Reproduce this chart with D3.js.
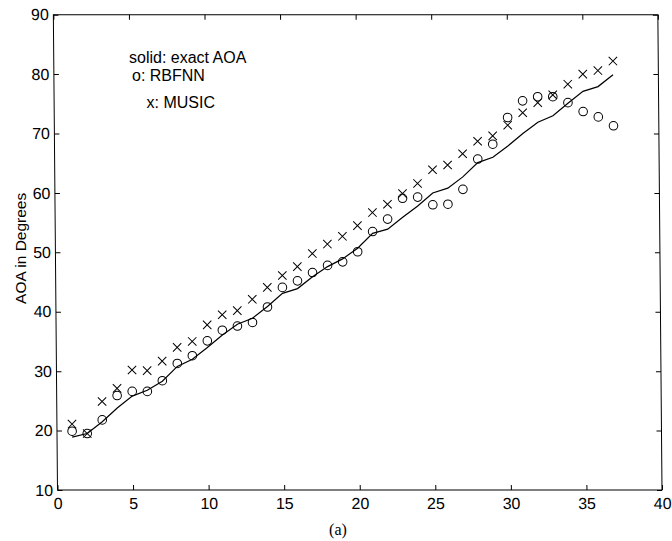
<!DOCTYPE html>
<html>
<head>
<meta charset="utf-8">
<script src="https://cdn.jsdelivr.net/npm/d3@7"></script>
<style>
  html, body { margin: 0; padding: 0; background: #fff; }
  svg { display: block; }
  .axis text { font-family: "Liberation Sans", Arial, Helvetica, sans-serif; font-size: 16px; fill: #000; }
  .axis path, .axis line { stroke: #000; stroke-width: 1; }
</style>
</head>
<body>
<script>
// Snapshot index (1..37)
const snapshots = d3.range(1, 38);

// Exact angle of arrival (degrees)
const exactAOA = [18.9, 19.5, 21.5, 23.8, 25.8, 26.8, 28.3, 30.8, 32.0, 34.0,
                  36.1, 37.9, 38.9, 40.9, 43.1, 43.9, 45.9, 47.6, 48.9, 50.7,
                  53.2, 53.9, 55.9, 57.8, 60.0, 60.8, 62.7, 65.1, 66.0, 67.9,
                  70.0, 71.9, 73.0, 75.1, 77.1, 77.9, 79.9];

// RBFNN estimates (circles)
const rbfnn = [19.9, 19.5, 21.8, 25.9, 26.6, 26.6, 28.4, 31.3, 32.6, 35.1,
               36.9, 37.6, 38.2, 40.8, 44.1, 45.2, 46.6, 47.8, 48.4, 50.1,
               53.5, 55.6, 59.1, 59.3, 58.0, 58.1, 60.6, 65.7, 68.2, 72.7,
               75.5, 76.2, 76.2, 75.2, 73.7, 72.8, 71.3];

// MUSIC estimates (crosses)
const music = [21.1, 19.5, 24.9, 27.1, 30.2, 30.1, 31.7, 34.0, 35.0, 37.8,
               39.5, 40.2, 42.1, 44.1, 46.1, 47.6, 49.8, 51.4, 52.7, 54.5,
               56.7, 58.1, 59.9, 61.6, 63.9, 64.7, 66.6, 68.7, 69.6, 71.4,
               73.5, 75.2, 76.5, 78.3, 80.0, 80.6, 82.2];

const xTicks = [0, 5, 10, 15, 20, 25, 30, 35, 40];
const yTicks = [10, 20, 30, 40, 50, 60, 70, 80, 90];

const legendLines = ["solid: exact AOA", "o: RBFNN", "x: MUSIC"];
const yLabel = "AOA in Degrees";
const caption = "(a)";

const W = 672, H = 541;
const plotLeft = 57.5, plotRight = 662, plotTop = 14.7, plotBottom = 490;

const svg = d3.select("body").append("svg")
  .attr("width", W).attr("height", H)
  .attr("viewBox", `0 0 ${W} ${H}`);

// The axes box leans slightly (top edge sits a few pixels left of the bottom edge)
const lean = 0.5; // degrees
const plot = svg.append("g")
  .attr("transform", `translate(0,${plotBottom}) skewX(${lean}) translate(0,${-plotBottom})`);

const x = d3.scaleLinear().domain([0, 40]).range([plotLeft, plotRight]);
const y = d3.scaleLinear().domain([10, 90]).range([plotBottom, plotTop]);

// Frame
plot.append("rect")
  .attr("x", plotLeft).attr("y", plotTop)
  .attr("width", plotRight - plotLeft).attr("height", plotBottom - plotTop)
  .attr("fill", "none").attr("stroke", "#000").attr("stroke-width", 1);

const tick = 5;
// Bottom axis with labels, ticks pointing inward
plot.append("g").attr("class", "axis")
  .attr("transform", `translate(0,${plotBottom})`)
  .call(d3.axisBottom(x).tickValues(xTicks).tickFormat(d3.format("d"))
        .tickSizeInner(-tick).tickSizeOuter(0).tickPadding(8))
  .call(g => g.select(".domain").remove());
// Top axis, ticks only
plot.append("g").attr("class", "axis")
  .attr("transform", `translate(0,${plotTop})`)
  .call(d3.axisTop(x).tickValues(xTicks).tickFormat("")
        .tickSizeInner(-tick).tickSizeOuter(0))
  .call(g => g.select(".domain").remove());
// Left axis with labels
plot.append("g").attr("class", "axis")
  .attr("transform", `translate(${plotLeft},0)`)
  .call(d3.axisLeft(y).tickValues(yTicks).tickFormat(d3.format("d"))
        .tickSizeInner(-tick).tickSizeOuter(0).tickPadding(4.5))
  .call(g => g.select(".domain").remove());
// Right axis, ticks only
plot.append("g").attr("class", "axis")
  .attr("transform", `translate(${plotRight},0)`)
  .call(d3.axisRight(y).tickValues(yTicks).tickFormat("")
        .tickSizeInner(-tick).tickSizeOuter(0))
  .call(g => g.select(".domain").remove());

// Exact AOA as a solid polyline
const line = d3.line()
  .x((d, i) => x(snapshots[i]))
  .y(d => y(d));
plot.append("path")
  .datum(exactAOA)
  .attr("d", line)
  .attr("fill", "none")
  .attr("stroke", "#000")
  .attr("stroke-width", 1.2);

// RBFNN circles
plot.append("g").selectAll("circle")
  .data(rbfnn)
  .join("circle")
  .attr("cx", (d, i) => x(snapshots[i]))
  .attr("cy", d => y(d))
  .attr("r", 4.3)
  .attr("fill", "none")
  .attr("stroke", "#000")
  .attr("stroke-width", 1);

// MUSIC crosses
const cs = 4.2;
plot.append("g").selectAll("path")
  .data(music)
  .join("path")
  .attr("d", (d, i) => {
    const cx = x(snapshots[i]), cy = y(d);
    return `M${cx - cs},${cy - cs}L${cx + cs},${cy + cs}M${cx - cs},${cy + cs}L${cx + cs},${cy - cs}`;
  })
  .attr("fill", "none")
  .attr("stroke", "#000")
  .attr("stroke-width", 1);

// Legend text
const legendPos = [[129, 63], [132, 81], [146.5, 108]];
svg.append("g").selectAll("text")
  .data(legendLines)
  .join("text")
  .attr("x", (d, i) => legendPos[i][0])
  .attr("y", (d, i) => legendPos[i][1])
  .attr("font-family", "'Liberation Sans', Arial, Helvetica, sans-serif")
  .attr("font-size", 16)
  .attr("fill", "#000")
  .text(d => d);

// Y-axis title
svg.append("text")
  .attr("transform", `translate(26,${(plotTop + plotBottom) / 2 - 4}) rotate(-90)`)
  .attr("text-anchor", "middle")
  .attr("font-family", "'Liberation Sans', Arial, Helvetica, sans-serif")
  .attr("font-size", 15.5)
  .attr("fill", "#000")
  .text(yLabel);

// Caption
svg.append("text")
  .attr("x", 338).attr("y", 535)
  .attr("text-anchor", "middle")
  .attr("font-family", "'Liberation Serif', 'Times New Roman', serif")
  .attr("font-size", 16)
  .attr("fill", "#000")
  .text(caption);
</script>
</body>
</html>
